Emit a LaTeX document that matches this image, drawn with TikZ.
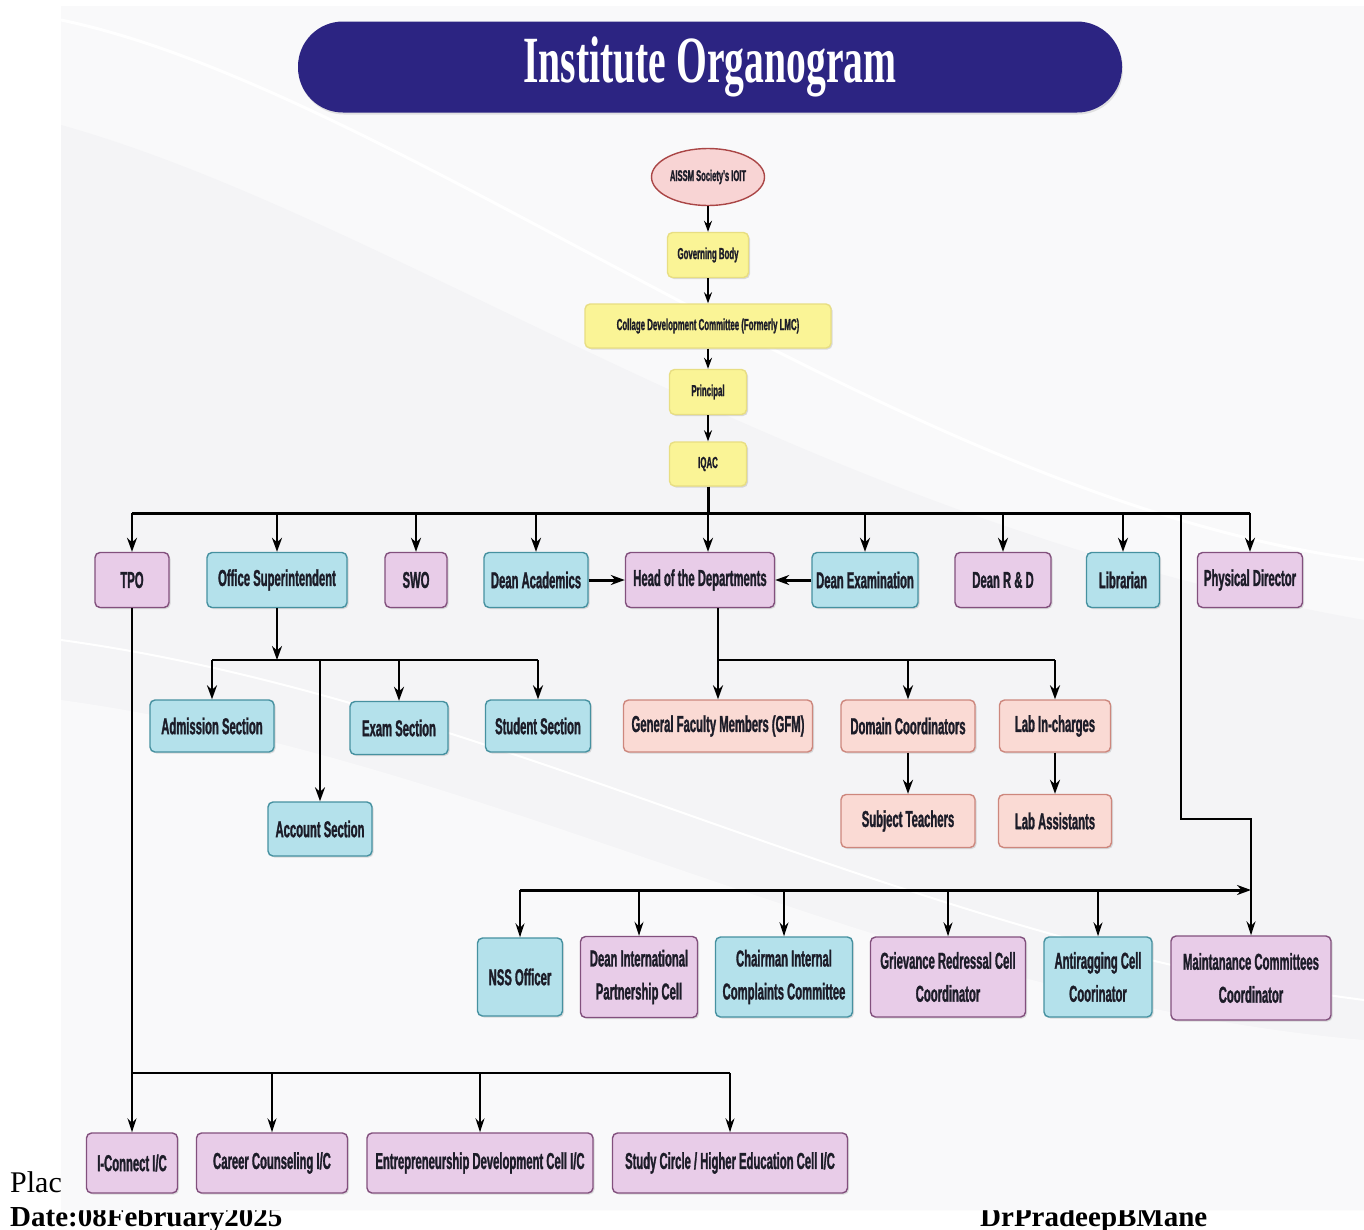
\documentclass[tikz,border=0pt]{standalone}
\usepackage{fontspec}
\setmainfont{Liberation Serif}
\newfontfamily\cond{Liberation Sans Bold}[FakeStretch=0.49, FakeBold=1.2]
\newfontfamily\titlefont{Liberation Serif Bold}[FakeStretch=0.6]
\usetikzlibrary{arrows.meta,shadows,shapes.geometric}
\definecolor{purfill}{RGB}{232,204,232}
\definecolor{purdraw}{RGB}{130,80,125}
\definecolor{cyfill}{RGB}{180,225,235}
\definecolor{cydraw}{RGB}{70,145,160}
\definecolor{salfill}{RGB}{250,218,212}
\definecolor{saldraw}{RGB}{205,135,125}
\definecolor{yelfill}{RGB}{250,244,150}
\definecolor{yeldraw}{RGB}{232,222,130}
\definecolor{elfill}{RGB}{248,212,212}
\definecolor{eldraw}{RGB}{170,70,70}
\definecolor{navy}{RGB}{44,36,130}
\definecolor{txt}{RGB}{28,28,40}
\definecolor{panel}{RGB}{249,249,250}
\definecolor{band}{RGB}{244,244,246}
\tikzset{
  box/.style={draw, rounded corners=5pt, line width=1.4pt, inner sep=2pt, align=center,
    font=\cond\fontsize{23}{33}\selectfont, text=txt,
    drop shadow={shadow xshift=1.5pt, shadow yshift=-1.5pt, opacity=0.25}},
  pur/.style={box, fill=purfill, draw=purdraw},
  cy/.style={box, fill=cyfill, draw=cydraw},
  sal/.style={box, fill=salfill, draw=saldraw},
  yel/.style={box, fill=yelfill, draw=yeldraw, font=\cond\fontsize{16}{18}\selectfont},
  arr/.style={-{Stealth[length=14pt,width=10pt]}, line width=2.4pt},
  sarr/.style={-{Stealth[length=11pt,width=8pt]}, line width=1.7pt},
  tarr/.style={-{Stealth[length=14pt,width=9pt]}, line width=1.9pt},
  ln/.style={line width=2.4pt},
  tln/.style={line width=1.9pt},
  sig/.style={font=\bfseries\fontsize{29}{30}\selectfont, anchor=base west, inner sep=0pt}
}
\begin{document}
\begin{tikzpicture}[x=1pt,y=-1pt]
\useasboundingbox (0,0) rectangle (1364,1229);
\clip (0,0) rectangle (1364,1229);
\fill[white] (0,0) rectangle (1364,1229);
% footer texts (partly covered by the panel)
\node[font=\fontsize{30}{30}\selectfont, anchor=base west, inner sep=0pt] (plac) at (10,1192) {Plac};
\node[sig] (date) at (10,1226) {Date:08February2025};
\node[sig] (sign) at (980,1226) {DrPradeepBMane};
% background panel
\fill[panel] (61,6) rectangle (1364,1210);
\begin{scope}
\clip (61,6) rectangle (1364,1210);
\fill[band] (61,125) .. controls (400,220) and (800,520) .. (1364,620) -- (1364,1210) -- (61,1210) -- cycle;
\fill[panel] (61,700) .. controls (500,760) and (900,1000) .. (1364,1040) -- (1364,1210) -- (61,1210) -- cycle;
\draw[white, line width=3pt] (61,20) .. controls (400,90) and (900,500) .. (1364,560);
\draw[white, line width=2pt] (61,640) .. controls (500,700) and (900,940) .. (1364,1000);
\end{scope}
% title
\node[fill=navy, rounded corners=45pt, minimum width=824pt, minimum height=91pt, inner sep=0pt,
  font=\titlefont\fontsize{66}{70}\selectfont, text=white,
  drop shadow={shadow xshift=1pt, shadow yshift=-2pt, opacity=0.2}] (title) at (710,67) {Institute Organogram};
% top chain
\node[ellipse, draw=eldraw, fill=elfill, line width=1.4pt, minimum width=113pt, minimum height=57pt, inner sep=0pt,
  font=\cond\fontsize{15.5}{18}\selectfont, text=txt] (soc) at (708,177) {AISSM Society's IOIT};
\node[yel, minimum width=81pt, minimum height=45pt] (gov) at (708,255) {Governing Body};
\node[yel, minimum width=246pt, minimum height=44pt] (cdc) at (708,326) {Collage Development Committee (Formerly LMC)};
\node[yel, minimum width=77pt, minimum height=45pt] (prin) at (708,392) {Principal};
\node[yel, minimum width=77pt, minimum height=44pt] (iqac) at (708,464) {IQAC};
\draw[sarr] (soc) -- (gov);
\draw[sarr] (gov) -- (cdc);
\draw[sarr] (cdc) -- (prin);
\draw[sarr] (prin) -- (iqac);
% first row
\node[pur, minimum width=74pt, minimum height=55pt] (tpo) at (132,580) {TPO};
\node[cy, minimum width=140pt, minimum height=55pt] (os) at (277,580) {Office Superintendent};
\node[pur, minimum width=62pt, minimum height=55pt] (swo) at (416,580) {SWO};
\node[cy, minimum width=104pt, minimum height=55pt] (dacad) at (536,580) {Dean Academics};
\node[pur, minimum width=149pt, minimum height=55pt] (hod) at (700,580) {Head of the Departments};
\node[cy, minimum width=106pt, minimum height=55pt] (dexam) at (865,580) {Dean Examination};
\node[pur, minimum width=96pt, minimum height=55pt] (drd) at (1003,580) {Dean R \& D};
\node[cy, minimum width=73pt, minimum height=55pt] (lib) at (1123,580) {Librarian};
\node[pur, minimum width=105pt, minimum height=55pt] (phys) at (1250,580) {Physical Director};
\coordinate (bus) at (708,513);
\draw[line width=3pt] (iqac) -- (bus);
\draw[line width=3pt] (bus -| tpo) -- (bus -| phys);
\foreach \n in {tpo,os,swo,dacad,dexam,drd,lib,phys} \draw[arr] (bus -| \n) -- (\n);
\draw[arr] (bus) -- (bus |- hod.north);
\draw[arr, line width=3pt] (dacad) -- (hod);
\draw[arr, line width=3pt] (dexam) -- (hod);
% office branch
\node[cy, minimum width=124pt, minimum height=52pt] (adm) at (212,726) {Admission Section};
\node[cy, minimum width=98pt, minimum height=53pt] (exs) at (399,728) {Exam Section};
\node[cy, minimum width=105pt, minimum height=52pt] (stu) at (538,726) {Student Section};
\node[cy, minimum width=104pt, minimum height=54pt] (acc) at (320,829) {Account Section};
\coordinate (obus) at (277,660);
\draw[arr] (os) -- (obus);
\draw[ln] (obus -| adm) -- (obus -| stu);
\foreach \n in {adm,exs,stu,acc} \draw[arr] (obus -| \n) -- (\n);
% HOD branch
\node[sal, minimum width=189pt, minimum height=52pt] (gfm) at (718,726) {General Faculty Members (GFM)};
\node[sal, minimum width=134pt, minimum height=52pt] (dom) at (908,726) {Domain Coordinators};
\node[sal, minimum width=111pt, minimum height=52pt] (lab) at (1055,726) {Lab In-charges};
\node[sal, minimum width=134pt, minimum height=53pt] (sub) at (908,821) {Subject Teachers};
\node[sal, minimum width=113pt, minimum height=53pt] (labas) at (1055,821) {Lab Assistants};
\coordinate (hbus) at (718,660);
\draw[ln] (hod.south -| gfm) -- (hbus) -- (hbus -| lab);
\foreach \n in {gfm,dom,lab} \draw[arr] (hbus -| \n) -- (\n);
\draw[arr] (dom) -- (sub);
\draw[arr] (lab) -- (labas);
% committees row
\node[cy, minimum width=85pt, minimum height=78pt] (nss) at (520,977) {NSS Officer};
\node[pur, minimum width=117pt, minimum height=81pt] (dip) at (639,977) {Dean International\\Partnership Cell};
\node[cy, minimum width=137pt, minimum height=80pt] (cic) at (784,977) {Chairman Internal\\Complaints Committee};
\node[pur, minimum width=155pt, minimum height=80pt] (grc) at (948,977) {Grievance Redressal Cell\\Coordinator};
\node[cy, minimum width=108pt, minimum height=80pt] (arc) at (1098,977) {Antiragging Cell\\Coorinator};
\node[pur, minimum width=160pt, minimum height=84pt] (mcc) at (1251,978) {Maintanance Committees\\Coordinator};
\coordinate (rb) at (1181,513);
\coordinate (rturn) at (1181,819);
\draw[tarr] (rb) -- (rturn) -| (mcc.north);
\coordinate (lbus) at (520,890);
\draw[arr, line width=3pt] (lbus) -- (lbus -| mcc);
\foreach \n in {nss,dip,cic,grc,arc} \draw[tarr] (lbus -| \n) -- (\n);
% TPO branch
\node[pur, minimum width=91pt, minimum height=60pt] (icon) at (132,1163) {I-Connect I/C};
\node[pur, minimum width=151pt, minimum height=60pt] (ccl) at (272,1163) {Career Counseling I/C};
\node[pur, minimum width=226pt, minimum height=60pt] (edc) at (480,1163) {Entrepreneurship Development Cell I/C};
\node[pur, minimum width=235pt, minimum height=60pt] (scc) at (730,1163) {Study Circle / Higher Education Cell I/C};
\coordinate (tbus) at (132,1073);
\draw[tarr] (tpo) -- (icon);
\draw[tln] (tbus) -- (tbus -| scc);
\foreach \n in {ccl,edc,scc} \draw[tarr] (tbus -| \n) -- (\n);
\end{tikzpicture}
\end{document}
